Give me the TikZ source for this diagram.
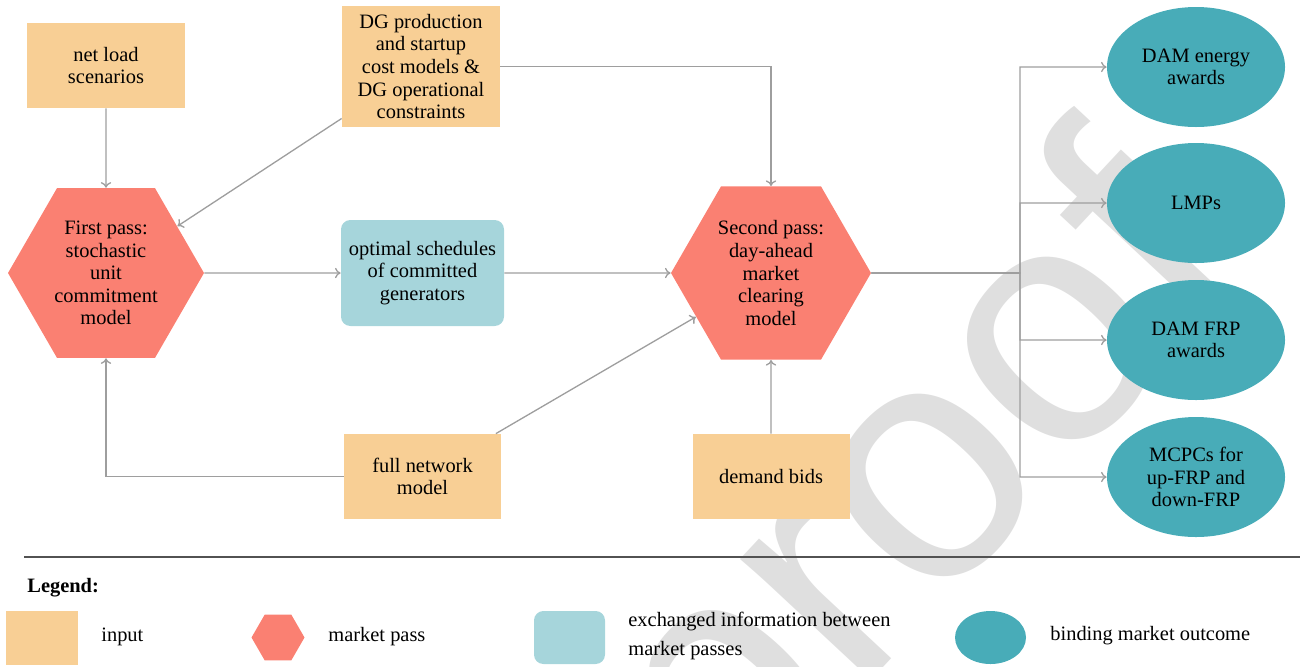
\documentclass[tikz,border=0pt]{standalone}
\usepackage{fontspec}
\setmainfont{Liberation Serif}
\newfontfamily\wmfont{Liberation Sans}
\usetikzlibrary{shapes.geometric,arrows.meta}
\definecolor{inorange}{HTML}{F8CF95}
\definecolor{passred}{HTML}{FA8072}
\definecolor{xinfo}{HTML}{A6D5DB}
\definecolor{outteal}{HTML}{48ACB8}
\definecolor{connc}{HTML}{9E9E9E}
\definecolor{wmc}{HTML}{DFDFDF}
\newcommand\pxu{0.5333pt}
\tikzset{
  txt/.style={font=\rmfamily\fontsize{10.9}{12}\selectfont, align=center, inner sep=0pt},
  inbox/.style={txt, rectangle, fill=inorange, minimum width=158*\pxu, minimum height=85*\pxu},
  passhex/.style={txt, regular polygon, regular polygon sides=6, fill=passred, minimum size=198*\pxu},
  infobox/.style={txt, rectangle, rounded corners=5pt, fill=xinfo, minimum width=163*\pxu, minimum height=106*\pxu},
  outell/.style={txt, ellipse, fill=outteal, minimum width=178*\pxu, minimum height=120*\pxu},
  conn/.style={draw=connc, line width=0.7pt, -{To[length=3pt,width=5.5pt]}},
  legtxt/.style={font=\rmfamily\fontsize{10.9}{15}\selectfont, align=left, anchor=west, inner sep=0pt},
}
\begin{document}
\begin{tikzpicture}[x=0.5333pt, y=-0.5333pt]
\path[use as bounding box] (0,0) rectangle (1300,666);
\begin{scope}
\clip (0,0) rectangle (1300,666);
\node[font=\wmfont\fontsize{180}{180}\selectfont, text=wmc, rotate=47, inner sep=0pt] (wm) at (926,494) {proof};
\end{scope}

% inputs
\node[inbox] (netload) at (106,65.5) {net load\\scenarios};
\node[inbox, minimum height=121*\pxu] (dg) at (421,66.5) {DG production\\and startup\\cost models \&\\DG operational\\constraints};
\node[inbox, minimum width=157*\pxu] (net) at (422.5,476.5) {full network\\model};
\node[inbox, minimum width=157*\pxu] (dem) at (771,476.5) {demand bids};

% passes
\node[passhex, minimum size=196*\pxu] (hex1) at (106,273) {First pass:\\stochastic\\unit\\commitment\\model};
\node[passhex, minimum size=200*\pxu] (hex2) at (771,273) {Second pass:\\day-ahead\\market\\clearing\\model};

% exchanged info
\node[infobox] (opt) at (422.5,273) {optimal schedules\\of committed\\generators};

% outcomes
\node[outell] (e1) at (1196,67) {DAM energy\\awards};
\node[outell] (e2) at (1196,203) {LMPs};
\node[outell] (e3) at (1196,340) {DAM FRP\\awards};
\node[outell] (e4) at (1196,477) {MCPCs for\\up-FRP and\\down-FRP};

% connectors
\draw[conn] (netload) -- (hex1);
\draw[conn] (dg) -- (hex1);
\draw[conn] (hex1) -- (opt);
\draw[conn] (opt) -- (hex2);
\draw[conn] (dg.east) -| (hex2);
\draw[conn] (net.west) -| (hex1);
\draw[conn] (net) -- (hex2);
\draw[conn] (dem) -- (hex2);
\coordinate (split) at (1020,273);
\draw[conn] (hex2.east) -- (split) |- (e1.west);
\draw[conn] (hex2.east) -- (split) |- (e2.west);
\draw[conn] (hex2.east) -- (split) |- (e3.west);
\draw[conn] (hex2.east) -- (split) |- (e4.west);

% legend
\coordinate (ls) at (24,557);
\coordinate (le) at (1300,557);
\draw[draw=black!68, line width=1pt] (ls) -- (le);
\node[font=\rmfamily\fontsize{10.9}{12}\selectfont\bfseries, anchor=west, inner sep=0pt] (legend) at (27,588) {Legend:};
\node[rectangle, fill=inorange, minimum width=72*\pxu, minimum height=54*\pxu, inner sep=0pt] (lin) at (42,638) {};
\node[legtxt] (lint) at (101,637) {input};
\node[regular polygon, regular polygon sides=6, fill=passred, minimum size=53*\pxu, inner sep=0pt] (lpass) at (278,637.5) {};
\node[legtxt] (lpasst) at (328,637) {market pass};
\node[rectangle, rounded corners=5pt, fill=xinfo, minimum width=71*\pxu, minimum height=53*\pxu, inner sep=0pt] (linfo) at (569.5,637.5) {};
\node[legtxt] (linfot) at (628,636) {exchanged information between\\market passes};
\node[ellipse, fill=outteal, minimum width=71*\pxu, minimum height=53*\pxu, inner sep=0pt] (lout) at (990.5,637.5) {};
\node[legtxt] (loutt) at (1050,636) {binding market outcome};
\end{tikzpicture}
\end{document}
